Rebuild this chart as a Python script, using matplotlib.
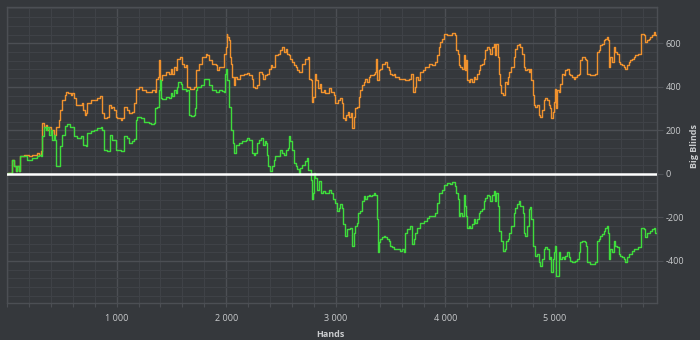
"""Bankroll graph: winnings vs all-in adjusted, in big blinds."""

import matplotlib
matplotlib.use("Agg")
import matplotlib.pyplot as plt
from matplotlib.ticker import FuncFormatter, MultipleLocator

# all-in EV line (orange)
ev_hands = [
    0, 12, 43, 64, 79, 94, 110, 116, 155, 201, 231, 277, 292, 307, 322, 337, 353, 368,
    383, 398, 414, 429, 444, 459, 474, 480, 505, 529, 541, 559, 581, 596, 611, 626,
    657, 681, 693, 711, 723, 733, 763, 793, 824, 845, 863, 869, 885, 915, 930, 945,
    961, 976, 991, 1006, 1036, 1052, 1067, 1097, 1112, 1143, 1158, 1173, 1204, 1234,
    1264, 1295, 1325, 1350, 1362, 1380, 1386, 1395, 1416, 1447, 1477, 1492, 1508,
    1523, 1538, 1553, 1574, 1599, 1614, 1629, 1644, 1666, 1690, 1705, 1720, 1751,
    1781, 1811, 1827, 1842, 1872, 1903, 1918, 1933, 1963, 1979, 1994, 2003, 2009,
    2024, 2030, 2039, 2054, 2070, 2079, 2100, 2130, 2161, 2191, 2212, 2231, 2243,
    2261, 2282, 2298, 2322, 2334, 2352, 2373, 2389, 2404, 2419, 2443, 2474, 2495,
    2510, 2525, 2541, 2556, 2571, 2586, 2601, 2617, 2632, 2647, 2662, 2693, 2723,
    2747, 2753, 2769, 2778, 2790, 2808, 2820, 2838, 2851, 2869, 2890, 2905, 2936,
    2960, 2981, 2996, 3021, 3042, 3057, 3063, 3082, 3094, 3112, 3124, 3142, 3148,
    3164, 3179, 3194, 3209, 3224, 3240, 3255, 3270, 3285, 3300, 3316, 3331, 3346,
    3361, 3370, 3379, 3391, 3407, 3422, 3437, 3452, 3467, 3483, 3498, 3513, 3528,
    3543, 3574, 3604, 3635, 3665, 3689, 3701, 3720, 3732, 3750, 3771, 3793, 3817,
    3847, 3863, 3878, 3902, 3923, 3938, 3954, 3969, 3984, 4014, 4045, 4060, 4084,
    4096, 4114, 4121, 4136, 4151, 4166, 4175, 4187, 4197, 4212, 4227, 4242, 4257,
    4273, 4288, 4303, 4318, 4333, 4348, 4364, 4379, 4394, 4409, 4424, 4440, 4449,
    4461, 4479, 4491, 4500, 4510, 4522, 4540, 4546, 4561, 4570, 4582, 4601, 4622,
    4637, 4652, 4668, 4683, 4698, 4713, 4728, 4744, 4759, 4774, 4783, 4795, 4804,
    4820, 4835, 4850, 4865, 4880, 4896, 4911, 4926, 4941, 4956, 4965, 4978, 4987,
    5002, 5011, 5017, 5032, 5047, 5063, 5078, 5093, 5108, 5123, 5139, 5154, 5169,
    5184, 5199, 5215, 5230, 5245, 5269, 5281, 5291, 5306, 5321, 5351, 5367, 5382,
    5397, 5412, 5427, 5442, 5458, 5473, 5482, 5488, 5503, 5518, 5534, 5549, 5564,
    5579, 5594, 5610, 5625, 5640, 5655, 5670, 5686, 5701, 5716, 5731, 5755, 5777,
    5786, 5807, 5822, 5838, 5853, 5868, 5883, 5898, 5914, 5929,
]
ev_bb = [
    0, 4, 65, 35, 12, 35, 12, 80, 88, 80, 88, 96, 88, 103, 233, 217, 225, 202,
    217, 187, 202, 180, 217, 217, 248, 294, 339, 362, 377, 373, 362, 370, 347, 316,
    316, 324, 294, 271, 278, 324, 339, 339, 347, 357, 354, 278, 256, 263, 316, 301,
    309, 294, 263, 256, 248, 256, 306, 294, 281, 286, 324, 392, 400, 385,
    377, 377, 385, 377, 434, 446, 522, 431, 453, 469, 461, 484, 461,
    491, 476, 529, 537, 507, 491, 499, 400, 392, 388, 400, 476, 507,
    537, 552, 545, 522, 507, 499, 476, 491, 491, 552, 583, 644, 628,
    613, 537, 507, 446, 408, 446, 438, 453, 461, 464, 453, 438, 400,
    393, 408, 469, 461, 438, 453, 461, 484, 499, 491, 545, 552, 568,
    583, 560, 575, 552, 545, 530, 514, 499, 491, 476, 469, 507, 530,
    537, 438, 431, 332, 355, 461, 431, 393, 415, 377, 385, 370, 393,
    377, 362, 324, 339, 347, 324, 256, 248, 271, 286, 263, 278, 210,
    263, 301, 306, 354, 385, 408, 423, 438, 423, 446, 453, 453, 461,
    469, 529, 430, 476, 484, 507, 507, 514, 491, 476, 461, 453, 461,
    446, 438, 434, 431, 438, 461, 377, 400, 446, 430, 469, 476, 491,
    507, 507, 499, 514, 545, 583, 606, 621, 641, 636, 636, 647, 636,
    567, 552, 499, 491, 484, 545, 476, 522, 430, 423, 438, 423, 446,
    438, 461, 476, 499, 507, 529, 567, 583, 575, 552, 583, 598, 545,
    598, 537, 461, 408, 370, 362, 385, 423, 415, 446, 469, 491, 537,
    575, 590, 598, 583, 552, 491, 476, 484, 469, 484, 430, 362, 316,
    309, 316, 271, 263, 294, 339, 347, 339, 316, 301, 256, 286, 332,
    392, 301, 385, 377, 415, 461, 453, 476, 484, 461, 453, 446, 438,
    446, 453, 461, 522, 537, 529, 522, 461, 461, 453, 453, 461, 560,
    568, 590, 598, 613, 621, 628, 613, 491, 537, 514, 583, 560, 552,
    514, 507, 499, 491, 484, 499, 514, 522, 529, 537, 545, 552, 552,
    644, 636, 606, 613, 621, 628, 636, 651, 636, 621,
]

# actual winnings line (green)
won_hands = [
    0, 12, 43, 64, 79, 94, 110, 116, 170, 186, 216, 231, 277, 292, 307, 316, 337, 353,
    368, 383, 398, 414, 429, 438, 444, 474, 483, 505, 529, 550, 572, 596, 611, 642,
    672, 693, 717, 733, 763, 793, 824, 854, 863, 885, 915, 936, 961, 976, 997, 1036,
    1052, 1067, 1097, 1112, 1143, 1158, 1173, 1188, 1219, 1249, 1280, 1295, 1310,
    1340, 1350, 1371, 1386, 1395, 1401, 1416, 1447, 1477, 1492, 1508, 1523, 1538,
    1553, 1562, 1584, 1599, 1629, 1644, 1660, 1675, 1705, 1712, 1720, 1736, 1766,
    1796, 1818, 1842, 1872, 1903, 1933, 1963, 1979, 1988, 2000, 2009, 2024, 2048,
    2060, 2070, 2085, 2115, 2146, 2176, 2191, 2212, 2231, 2252, 2267, 2282, 2298,
    2313, 2334, 2352, 2364, 2373, 2383, 2395, 2413, 2434, 2449, 2480, 2495, 2510,
    2525, 2547, 2565, 2571, 2586, 2601, 2617, 2632, 2647, 2662, 2677, 2693, 2717,
    2738, 2747, 2769, 2778, 2790, 2802, 2814, 2829, 2845, 2860, 2881, 2905, 2936,
    2960, 2972, 2990, 3006, 3027, 3042, 3057, 3063, 3082, 3103, 3133, 3148, 3164,
    3179, 3194, 3203, 3224, 3240, 3255, 3270, 3285, 3300, 3316, 3331, 3346, 3361,
    3376, 3385, 3398, 3407, 3422, 3437, 3452, 3467, 3483, 3498, 3513, 3528, 3559,
    3589, 3604, 3619, 3635, 3650, 3665, 3680, 3695, 3711, 3726, 3741, 3756, 3771,
    3802, 3832, 3847, 3878, 3908, 3923, 3938, 3969, 3984, 4014, 4045, 4060, 4084,
    4096, 4114, 4121, 4136, 4151, 4166, 4175, 4187, 4197, 4212, 4227, 4242, 4257,
    4273, 4288, 4303, 4318, 4333, 4348, 4364, 4379, 4394, 4409, 4424, 4440, 4449,
    4461, 4479, 4491, 4510, 4522, 4540, 4552, 4570, 4582, 4601, 4622, 4637, 4652,
    4668, 4683, 4704, 4713, 4728, 4744, 4759, 4774, 4783, 4795, 4813, 4835, 4850,
    4865, 4880, 4896, 4911, 4926, 4941, 4956, 4965, 4978, 4987, 5002, 5011, 5026,
    5038, 5047, 5063, 5078, 5093, 5108, 5123, 5139, 5154, 5169, 5184, 5199, 5215,
    5230, 5245, 5269, 5281, 5291, 5306, 5321, 5336, 5351, 5367, 5382, 5397, 5412,
    5427, 5442, 5458, 5473, 5482, 5488, 5503, 5518, 5534, 5549, 5564, 5579, 5594,
    5610, 5625, 5640, 5655, 5670, 5686, 5701, 5716, 5731, 5755, 5777, 5786, 5807,
    5822, 5838, 5853, 5868, 5883, 5898, 5914, 5929,
]
won_bb = [
    0, 4, 65, 35, 12, 35, 12, 80, 80, 65, 65, 73, 80, 88, 84, 172, 217, 202,
    217, 180, 202, 157, 180, 157, 35, 35, 126, 180, 220, 230, 217, 214, 172, 164,
    175, 134, 126, 187, 195, 202, 210, 214, 202, 111, 103, 180, 157, 157, 111, 103,
    103, 172, 164, 144, 149, 160, 248, 260, 256, 240, 236, 233, 230,
    233, 301, 306, 385, 431, 347, 342, 351, 347, 373, 357, 385, 370,
    400, 423, 415, 392, 382, 385, 271, 266, 271, 301, 385, 400, 408,
    438, 434, 408, 385, 377, 385, 382, 377, 461, 484, 431, 309, 202,
    141, 96, 134, 141, 149, 157, 164, 157, 96, 88, 96, 141, 157,
    164, 134, 149, 141, 88, 35, 12, 35, 65, 81, 84, 108, 96,
    88, 111, 119, 175, 149, 111, 50, 35, 23, 4, 27, 43, 58,
    73, 20, -26, -117, -87, 4, -18, -72, -34, -87, -79, -87, -75,
    -87, -117, -132, -171, -155, -140, -155, -232, -285, -254, -247, -330, -270,
    -239, -224, -178, -171, -125, -102, -117, -102, -95, -102, -95, -87, -95,
    -209, -361, -315, -300, -292, -285, -292, -300, -308, -330, -338, -346, -346,
    -353, -346, -361, -270, -254, -254, -239, -323, -300, -270, -247, -247, -224,
    -216, -201, -193, -193, -178, -133, -87, -72, -49, -41, -46, -38, -57,
    -87, -117, -193, -178, -193, -95, -148, -193, -247, -239, -247, -232, -209,
    -224, -209, -178, -171, -163, -125, -110, -95, -102, -125, -95, -79, -125,
    -87, -148, -262, -308, -353, -346, -308, -300, -270, -239, -178, -155, -140,
    -125, -148, -178, -270, -285, -239, -163, -152, -209, -330, -376, -368, -407,
    -422, -391, -346, -338, -346, -391, -384, -452, -391, -361, -330, -468, -468,
    -361, -391, -384, -391, -376, -361, -384, -399, -407, -407, -399, -391, -361,
    -315, -308, -315, -330, -407, -407, -414, -414, -414, -407, -308, -300, -285,
    -277, -262, -247, -239, -270, -391, -346, -361, -308, -330, -338, -368, -376,
    -384, -391, -407, -384, -368, -368, -353, -346, -343, -338, -338, -247, -254,
    -292, -270, -270, -262, -254, -247, -270, -270,
]

BG = "#35383c"
GRID_MAJOR = "#4c4f54"
GRID_MINOR = "#3f4247"
TEXT = "#c9cbcd"

plt.rcParams["font.family"] = ["Open Sans", "DejaVu Sans"]

fig = plt.figure(figsize=(7, 3.4), dpi=100, facecolor=BG)
ax = fig.add_axes([0.01, 0.109, 0.9286, 0.870], facecolor=BG)

ax.plot(ev_hands, ev_bb, color="#f0922e", lw=1.0, drawstyle="steps-post", zorder=3)
ax.plot(won_hands, won_bb, color="#3fdc3c", lw=1.0, drawstyle="steps-post", zorder=4)
ax.axhline(0, color="white", lw=1.8, zorder=5)

ax.set_xlim(0, 5930)
ax.set_ylim(-593, 766)

ax.xaxis.set_major_locator(MultipleLocator(1000))
ax.xaxis.set_minor_locator(MultipleLocator(200))
ax.yaxis.set_major_locator(MultipleLocator(200))
ax.yaxis.set_minor_locator(MultipleLocator(40))
ax.xaxis.set_major_formatter(FuncFormatter(lambda v, p: f"{int(v):,}".replace(",", " ") if v > 0 else ""))
ax.yaxis.set_major_formatter(FuncFormatter(lambda v, p: f"{int(v)}"))

ax.grid(which="major", color=GRID_MAJOR, lw=1.0, zorder=0)
ax.grid(which="minor", color=GRID_MINOR, lw=0.8, zorder=0)
ax.set_axisbelow(True)

ax.yaxis.tick_right()
ax.yaxis.set_label_position("right")
ax.tick_params(axis="x", which="both", colors=GRID_MAJOR, labelcolor=TEXT,
               labelsize=6.5, length=3, width=0.8, pad=5)
ax.tick_params(axis="y", which="major", colors=GRID_MAJOR, labelcolor=TEXT,
               labelsize=6.5, length=4, width=0.8, pad=2)
ax.tick_params(axis="y", which="minor", length=0)

for s in ax.spines.values():
    s.set_color(GRID_MAJOR)
    s.set_linewidth(1.0)

ax.set_xlabel("Hands", color=TEXT, fontsize=6.5, fontweight="bold")
ax.set_ylabel("Big Blinds", color=TEXT, fontsize=6.5, fontweight="bold")
ax.xaxis.set_label_coords(0.497, -0.09)
ax.yaxis.set_label_coords(1.051, 0.53)

fig.savefig("out.png", dpi=100, facecolor=BG)
